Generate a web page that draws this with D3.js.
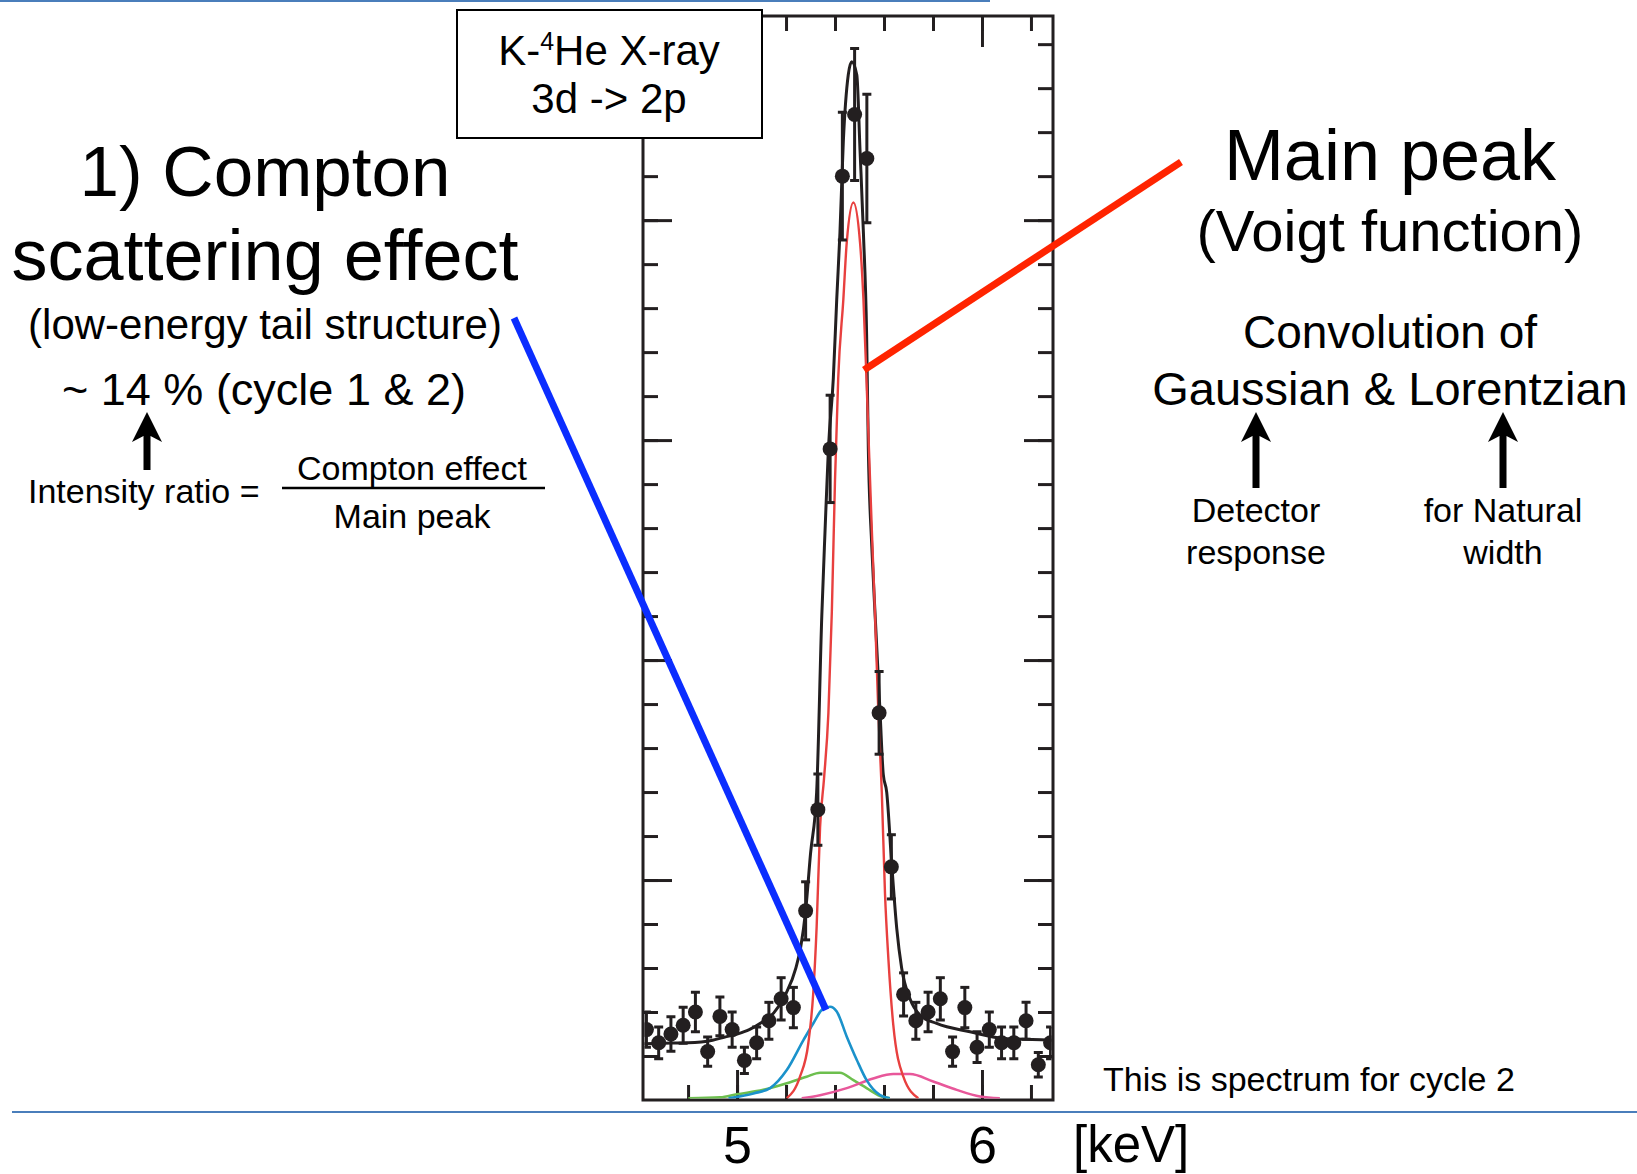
<!DOCTYPE html>
<html>
<head>
<meta charset="utf-8">
<title>K-4He X-ray 3d -> 2p</title>
<script src="https://d3js.org/d3.v7.min.js"></script>
<style>
  body { margin:0; background:#fff; }
  svg { display:block; font-family:"Liberation Sans", Arial, Helvetica, sans-serif; }
</style>
</head>
<body>
<svg id="chart" width="1637" height="1174"></svg>
<script>
// spectrum for cycle 2, counts per bin
const energy = [4.63, 4.68, 4.73, 4.78, 4.83, 4.88, 4.93, 4.98, 5.03, 5.08,
                5.13, 5.18, 5.23, 5.28, 5.33, 5.38, 5.43, 5.48, 5.53, 5.58,
                5.63, 5.68, 5.73, 5.78, 5.83, 5.88, 5.93, 5.98, 6.03, 6.08,
                6.13, 6.18, 6.23, 6.28];
const counts = [16, 13, 15, 17, 20, 11, 19, 16, 9, 13,
                18, 23, 21, 43, 66, 148, 210, 224, 214, 88,
                53, 24, 18, 20, 23, 11, 21, 12, 16, 13,
                13, 18, 8, 13];
const errors = [4.0, 3.6, 3.9, 4.1, 4.5, 3.3, 4.4, 4.0, 3.0, 3.6,
                4.2, 4.8, 4.6, 6.6, 8.1, 12.2, 14.5, 15.0, 14.6, 9.4,
                7.3, 4.9, 4.2, 4.5, 4.8, 3.3, 4.6, 3.5, 4.0, 3.6,
                3.6, 4.2, 2.8, 3.6];

// fitted curves [keV, counts]
const totalFit = [[4.62,12.8],[4.70,12.9],[4.80,13.0],[4.90,13.6],[4.95,14.3],[5.00,15.0],
                  [5.05,16.0],[5.10,17.6],[5.15,19.8],[5.20,24.2],[5.24,30],[5.26,34.8],
                  [5.28,43],[5.30,56],[5.325,70],[5.346,110],[5.359,129],[5.373,148],
                  [5.393,164],[5.407,182],[5.42,197],[5.434,218],[5.454,233],[5.468,236],
                  [5.489,233],[5.502,216],[5.516,197],[5.529,174],[5.536,148],[5.55,126],
                  [5.563,111],[5.584,88],[5.597,74],[5.611,70],[5.631,54],[5.652,39],
                  [5.672,30],[5.706,23],[5.747,19.3],[5.815,17.4],[5.951,15.5],[6.087,14],
                  [6.29,13.6]];
const mainPeak = [[5.203,0.4],[5.257,5.3],[5.291,12.9],[5.311,24.2],[5.325,39.4],[5.339,62],
                  [5.355,73],[5.373,88],[5.387,111],[5.40,141],[5.413,164],[5.434,182],
                  [5.448,195],[5.475,204],[5.502,195],[5.516,182],[5.529,163],[5.536,152],
                  [5.55,130],[5.563,111],[5.577,88],[5.591,70],[5.604,47],[5.618,32],
                  [5.638,17],[5.679,5.3],[5.74,0.4]];
const comptonTail = [[4.965,0.4],[5.067,1.5],[5.135,2.7],[5.203,6.8],[5.271,13.6],[5.311,17.4],
                     [5.352,20.8],[5.38,21.2],[5.407,20.1],[5.448,14.4],[5.489,9.1],[5.529,4.5],
                     [5.584,1.1],[5.624,0.4]];
const greenComp = [[4.801,0.4],[4.931,0.6],[4.999,1.3],[5.107,2.3],[5.203,3.8],[5.284,5.3],
                   [5.339,6.2],[5.42,6.2],[5.475,4.5],[5.529,2.7],[5.584,0.9],[5.624,0.4]];
const pinkComp = [[5.264,0.4],[5.339,1.1],[5.448,2.7],[5.556,4.9],[5.638,5.9],[5.706,5.9],
                  [5.801,4.2],[5.897,2.3],[5.992,0.8],[6.073,0.4]];

const xLabels = [5, 6];
const yMajor = [50, 100, 150, 200];

const svg = d3.select('#chart');
const ink = '#231f20';

const plot = {left: 643, right: 1053, top: 16, bottom: 1100};
const x = d3.scaleLinear().domain([4.616, 6.29]).range([plot.left, plot.right]);
const y = d3.scaleLinear().domain([0, 246.4]).range([plot.bottom, plot.top]);

const xMinor = x.ticks(8);
const yMinor = y.ticks(25).filter(d => d > 0);

// thin blue slide rules
svg.append('line').attr('x1', 0).attr('x2', 990).attr('y1', 1).attr('y2', 1)
    .style('stroke', '#4a7ebb').style('stroke-width', 2);
svg.append('line').attr('x1', 12).attr('x2', 1637).attr('y1', 1112).attr('y2', 1112)
    .style('stroke', '#4a7ebb').style('stroke-width', 2);

// axes: inward ticks on all four sides
function tickAxis(axis, tx, ty) {
    const g = svg.append('g').attr('transform', `translate(${tx},${ty})`).call(axis);
    g.select('.domain').remove();
    g.selectAll('line').style('stroke', ink).style('stroke-width', 3);
    return g;
}
tickAxis(d3.axisLeft(y).tickValues(yMinor).tickSize(-15).tickFormat(''), plot.left, 0);
tickAxis(d3.axisLeft(y).tickValues(yMajor).tickSize(-29).tickFormat(''), plot.left, 0);
tickAxis(d3.axisRight(y).tickValues(yMinor).tickSize(-15).tickFormat(''), plot.right, 0);
tickAxis(d3.axisRight(y).tickValues(yMajor).tickSize(-29).tickFormat(''), plot.right, 0);
tickAxis(d3.axisTop(x).tickValues(xMinor).tickSize(-15).tickFormat(''), 0, plot.top);
tickAxis(d3.axisTop(x).tickValues(xLabels).tickSize(-31).tickFormat(''), 0, plot.top);
tickAxis(d3.axisBottom(x).tickValues(xMinor).tickSize(-15).tickFormat(''), 0, plot.bottom);
tickAxis(d3.axisBottom(x).tickValues(xLabels).tickSize(-30).tickFormat(''), 0, plot.bottom);

svg.append('rect')
    .attr('x', plot.left).attr('y', plot.top)
    .attr('width', plot.right - plot.left).attr('height', plot.bottom - plot.top)
    .style('fill', 'none').style('stroke', ink).style('stroke-width', 3);

// tick labels below the rule
const lab = svg.append('g').attr('transform', `translate(0,${plot.bottom})`)
    .call(d3.axisBottom(x).tickValues(xLabels).tickSize(0).tickPadding(26).tickFormat(d3.format('d')));
lab.select('.domain').remove();
lab.selectAll('text').style('font-size', '52px').style('font-family', 'inherit').style('fill', '#000');

svg.append('text').attr('x', 1073).attr('y', 1162)
    .style('font-size', '51px').text('[keV]');

// data area
svg.append('clipPath').attr('id', 'clip').append('rect')
    .attr('x', plot.left + 1.5).attr('y', plot.top + 1.5)
    .attr('width', plot.right - plot.left - 3).attr('height', plot.bottom - plot.top - 3);
const area = svg.append('g').attr('clip-path', 'url(#clip)');

const line = d3.line().x(d => x(d[0])).y(d => y(d[1])).curve(d3.curveMonotoneX);

const curves = [
    {data: greenComp, color: '#6dbf4e', w: 2.6},
    {data: pinkComp, color: '#e8579a', w: 2.6},
    {data: comptonTail, color: '#1b92cb', w: 2.6},
    {data: totalFit, color: ink, w: 3},
    {data: mainPeak, color: '#e8403f', w: 2.4}
];
curves.forEach(c => {
    area.append('path').datum(c.data).attr('d', line)
        .style('fill', 'none').style('stroke', c.color).style('stroke-width', c.w);
});

const pts = area.selectAll('g.pt').data(energy).join('g').attr('class', 'pt');
pts.append('line')
    .attr('x1', d => x(d)).attr('x2', d => x(d))
    .attr('y1', (d, i) => y(counts[i] - errors[i])).attr('y2', (d, i) => y(counts[i] + errors[i]))
    .style('stroke', ink).style('stroke-width', 3);
pts.append('line')
    .attr('x1', d => x(d) - 4.5).attr('x2', d => x(d) + 4.5)
    .attr('y1', (d, i) => y(counts[i] + errors[i])).attr('y2', (d, i) => y(counts[i] + errors[i]))
    .style('stroke', ink).style('stroke-width', 3);
pts.append('line')
    .attr('x1', d => x(d) - 4.5).attr('x2', d => x(d) + 4.5)
    .attr('y1', (d, i) => y(counts[i] - errors[i])).attr('y2', (d, i) => y(counts[i] - errors[i]))
    .style('stroke', ink).style('stroke-width', 3);
pts.append('circle')
    .attr('cx', d => x(d)).attr('cy', (d, i) => y(counts[i]))
    .attr('r', 7.5).style('fill', ink);

// title box
svg.append('rect').attr('x', 457).attr('y', 10).attr('width', 305).attr('height', 128)
    .style('fill', '#fff').style('stroke', '#000').style('stroke-width', 2);
const t1 = svg.append('text').attr('x', 609).attr('y', 65).attr('text-anchor', 'middle')
    .style('font-size', '42px');
t1.append('tspan').text('K-');
t1.append('tspan').attr('dy', -15).style('font-size', '25px').text('4');
t1.append('tspan').attr('dy', 15).text('He X-ray');
svg.append('text').attr('x', 609).attr('y', 113).attr('text-anchor', 'middle')
    .style('font-size', '42px').text('3d -> 2p');

// annotation lines
svg.append('line').attr('x1', 514).attr('y1', 318).attr('x2', 826).attr('y2', 1010)
    .style('stroke', '#0b2dff').style('stroke-width', 7);
svg.append('line').attr('x1', 1181).attr('y1', 162).attr('x2', 864).attr('y2', 370)
    .style('stroke', '#ff2400').style('stroke-width', 7);

// texts
function txt(s, px, tx, ty, anchor) {
    return svg.append('text').attr('x', tx).attr('y', ty)
        .attr('text-anchor', anchor || 'middle')
        .style('font-size', px + 'px').style('fill', '#000').text(s);
}
txt('1) Compton', 71, 265, 196);
txt('scattering effect', 72, 265, 280);
txt('(low-energy tail structure)', 42, 265, 339);
txt('~ 14 % (cycle 1 & 2)', 45, 264, 405);
txt('Intensity ratio =', 34, 28, 503, 'start');
txt('Compton effect', 34, 412, 480);
txt('Main peak', 34, 412, 528);
svg.append('line').attr('x1', 282).attr('x2', 545).attr('y1', 488).attr('y2', 488)
    .style('stroke', '#000').style('stroke-width', 2.5);

txt('Main peak', 72, 1390, 180);
txt('(Voigt function)', 58, 1390, 251);
txt('Convolution of', 46, 1390, 348);
txt('Gaussian & Lorentzian', 47, 1390, 405);
txt('Detector', 34, 1256, 522);
txt('response', 34, 1256, 564);
txt('for Natural', 34, 1503, 522);
txt('width', 34, 1503, 564);
txt('This is spectrum for cycle 2', 34, 1103, 1091, 'start');

// up arrows
function upArrow(cx, tip, base) {
    const hw = 15, hh = 30, sw = 3.5;
    const p = d3.path();
    p.moveTo(cx, tip);
    p.lineTo(cx + hw, tip + hh);
    p.lineTo(cx + sw, tip + hh - 6);
    p.lineTo(cx + sw, base);
    p.lineTo(cx - sw, base);
    p.lineTo(cx - sw, tip + hh - 6);
    p.lineTo(cx - hw, tip + hh);
    p.closePath();
    svg.append('path').attr('d', p.toString()).style('fill', '#000');
}
upArrow(147, 412, 470);
upArrow(1256, 412, 488);
upArrow(1503, 412, 488);
</script>
</body>
</html>
